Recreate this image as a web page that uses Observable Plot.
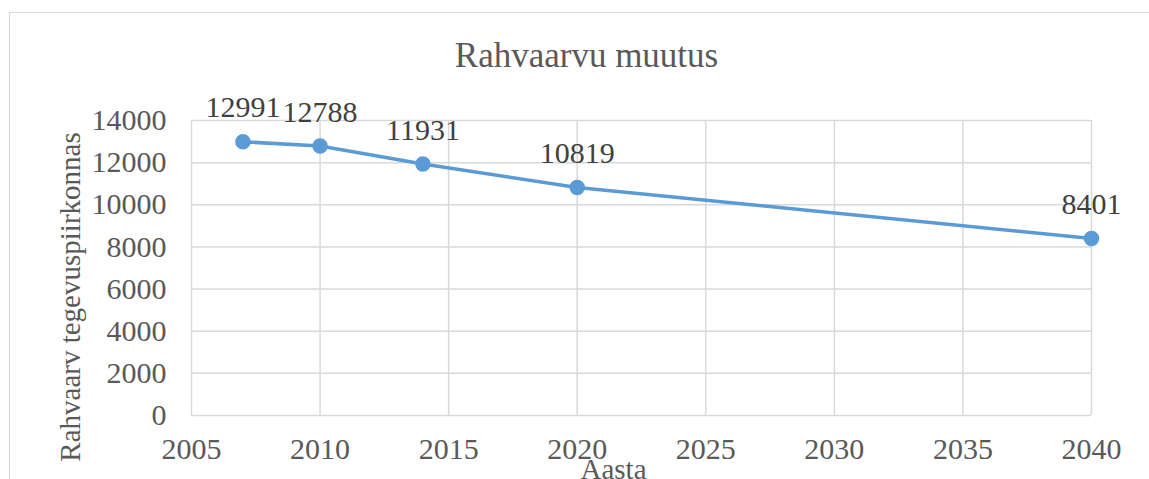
<!DOCTYPE html>
<html>
<head>
<meta charset="utf-8">
<script src="https://cdn.jsdelivr.net/npm/d3@7"></script>
<script src="https://cdn.jsdelivr.net/npm/@observablehq/plot@0.6"></script>
<style>
  html, body { margin: 0; padding: 0; background: #fff; }
  #wrap { position: relative; width: 1149px; height: 479px; overflow: hidden; }
  #border { position: absolute; left: 9px; top: 12px; width: 1200px; height: 600px; border-left: 1.5px solid #d9d9d9; border-top: 1.5px solid #d9d9d9; }
  #chart { position: absolute; left: 0; top: 0; }
  #chart svg, #chart svg text { font-family: "Liberation Serif", "DejaVu Serif", serif !important; }
</style>
</head>
<body>
<div id="wrap"><div id="border"></div><div id="chart"></div></div>
<script>
const years = [2007, 2010, 2014, 2020, 2040];
const population = [12991, 12788, 11931, 10819, 8401];
const xTicks = [2005, 2010, 2015, 2020, 2025, 2030, 2035, 2040];
const yTicks = [0, 2000, 4000, 6000, 8000, 10000, 12000, 14000];
const titleText = "Rahvaarvu muutus";
const yLabel = "Rahvaarv tegevuspiirkonnas";
const xLabel = "Aasta";

const data = years.map((y, i) => ({year: y, pop: population[i]}));
const font = "Liberation Serif";
const grey = "#595959";
const blue = "#5b9bd5";

const chart = Plot.plot({
  width: 1149,
  height: 479,
  marginLeft: 191,
  marginRight: 58,
  marginTop: 120,
  marginBottom: 64,
  style: {fontFamily: font, fontSize: "30px", color: grey, background: "transparent"},
  x: {domain: [2005, 2040]},
  y: {domain: [0, 14000]},
  marks: [
    Plot.gridX(xTicks, {stroke: "#d9d9d9", strokeOpacity: 1, strokeWidth: 1.5}),
    Plot.gridY(yTicks, {stroke: "#d9d9d9", strokeOpacity: 1, strokeWidth: 1.5}),
    Plot.axisX(xTicks, {tickSize: 0, tickPadding: 22, tickFormat: d => String(d), label: null, fill: grey, fontSize: 30, fontFamily: font}),
    Plot.axisY(yTicks, {tickSize: 0, tickPadding: 25, tickFormat: d => String(d), label: null, fill: grey, fontSize: 30, fontFamily: font}),
    Plot.line(data, {x: "year", y: "pop", stroke: blue, strokeWidth: 3.5, curve: "linear"}),
    Plot.dot(data, {x: "year", y: "pop", r: 7, fill: blue, stroke: blue}),
    Plot.text(data, {x: "year", y: "pop", text: d => String(d.pop), dy: -34, fill: "#404040", fontSize: 30, fontFamily: font, lineAnchor: "middle"}),
    Plot.text([titleText], {frameAnchor: "top", dx: -55, dy: -65, fill: grey, fontSize: 35, fontFamily: font, lineAnchor: "middle"}),
    Plot.text([yLabel], {frameAnchor: "left", dx: -121, dy: 29, rotate: -90, fill: grey, fontSize: 29, fontFamily: font, lineAnchor: "middle", textAnchor: "middle"}),
    Plot.text([xLabel], {frameAnchor: "bottom", dx: -28, dy: 54, fill: grey, fontSize: 29, fontFamily: font, lineAnchor: "middle"})
  ]
});
document.getElementById("chart").appendChild(chart);
</script>
</body>
</html>
